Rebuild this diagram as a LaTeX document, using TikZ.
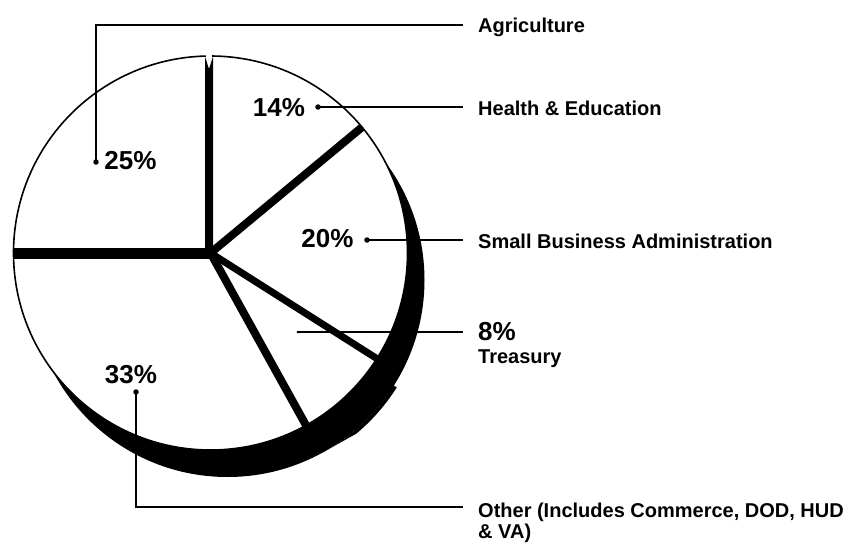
\documentclass[tikz,border=0pt]{standalone}
\usepackage{fontspec}
\setmainfont{Liberation Sans}
\begin{document}
\begin{tikzpicture}[x=1pt,y=-1pt,
  pct/.style={font=\bfseries\fontsize{26}{30}\selectfont, inner sep=0pt},
  lab/.style={font=\bfseries\fontsize{20}{21}\selectfont, inner sep=0pt, align=left, anchor=base west},
  lead/.style={line width=1.5pt},
  dotn/.style={circle, fill, inner sep=0pt, minimum size=5.5pt},
  tinydot/.style={circle, fill, inner sep=0pt, minimum size=3pt}]
\useasboundingbox (0,0) rectangle (852,542);
\coordinate (C) at (210.5,253);
\coordinate (S) at (227.5,280);
% shadow (depth of the pie)
\fill (S) circle[radius=197];
\fill ([shift={(32.4:195)}]S) -- ([shift={(32.4:200.5)}]S)
  arc[start angle=32.4, end angle=50, radius=200.5]
  -- ([shift={(61:197)}]S)
  arc[start angle=61, end angle=32.4, radius=195] -- cycle;
% top face
\fill[white] (C) circle[radius=197];
\draw[line width=1.6pt] (C) circle[radius=197];
% top notch between Agriculture and Health slices
\fill[white] (205.8,48) rectangle (212.2,62);
\fill (205,253) -- (205,56.5) -- (209,69) -- (213,56.5) -- (213,253) -- cycle;
% left separator
\fill (13,247.5) rectangle (213,259);
% other separators
\draw[line width=8pt] (C) -- ++(-39.7:197);
\draw[line width=7pt] (C) -- ++(32.4:197);
\draw[line width=8pt] (C) -- ++(61:197);
% percentage labels
\node[pct] (p25) at (130.5,161) {25\%};
\node[pct] (p14) at (279,108) {14\%};
\node[pct] (p20) at (327.5,239) {20\%};
\node[pct] (p33) at (131,375) {33\%};
% dots
\node[dotn] (d25) at (96,162) {};
\node[dotn] (d14) at (318,107) {};
\node[dotn] (d20) at (367,240) {};
\node[dotn] (d33) at (136,392) {};
\node[tinydot] (d8) at (298,332) {};
% right labels
\node[lab] (agri) at (478,32) {Agriculture};
\node[lab] (hed) at (478,115) {Health \& Education};
\node[lab] (sba) at (478,248) {Small Business Administration};
\node[pct, anchor=base west] (p8) at (478,340) {8\%};
\node[lab] (tre) at (478,363) {Treasury};
\node[lab] (oth) at (478,538) {Other (Includes Commerce, DOD, HUD\\\& VA)};
% leader ends
\coordinate (e25) at (463,25);
\coordinate (e14) at (463,107);
\coordinate (e20) at (463,240);
\coordinate (e8) at (463,332);
\coordinate (e33) at (463,507);
\draw[lead] (d25.center) |- (e25);
\draw[lead] (d14.center) -- (e14);
\draw[lead] (d20.center) -- (e20);
\draw[lead] (d8.center) -- (e8);
\draw[lead] (d33.center) |- (e33);
\end{tikzpicture}
\end{document}
